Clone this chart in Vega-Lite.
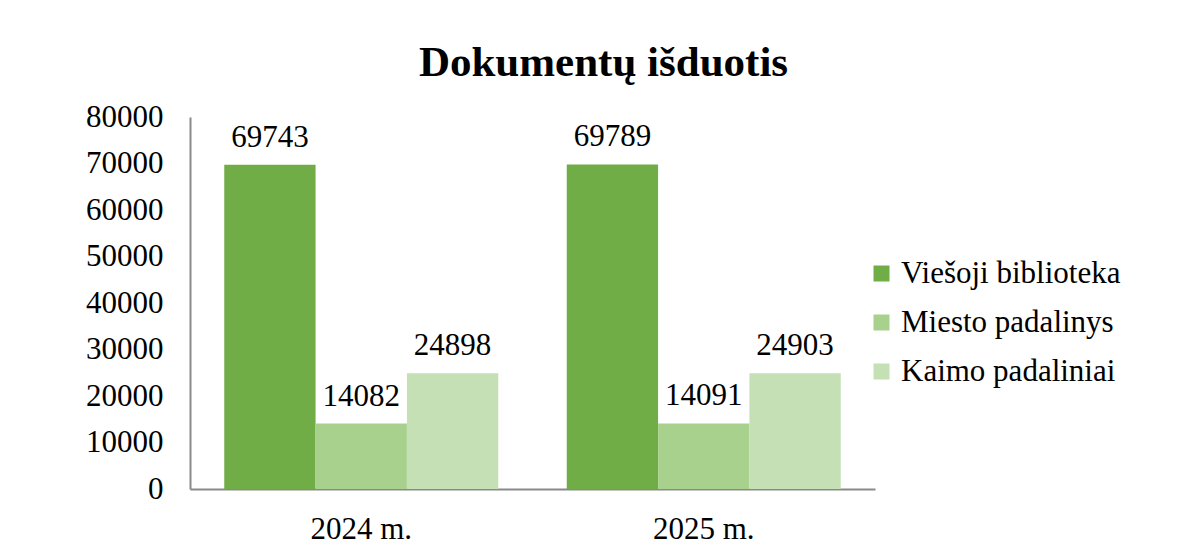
{
  "$schema": "https://vega.github.io/schema/vega-lite/v6.json",
  "width": 685,
  "height": 372,
  "autosize": {"type": "none"},
  "padding": {"left": 190, "top": 117, "right": 311, "bottom": 63},
  "background": "white",
  "title": {
    "text": "Dokumentų išduotis",
    "font": "Liberation Serif",
    "fontSize": 43,
    "fontWeight": "bold",
    "color": "#000000",
    "anchor": "middle",
    "dx": 71,
    "offset": 16
  },
  "config": {
    "view": {"stroke": null},
    "font": "Liberation Serif"
  },
  "data": {
    "values": [
      {"year": "2024 m.", "series": "Viešoji biblioteka", "value": 69743},
      {"year": "2024 m.", "series": "Miesto padalinys", "value": 14082},
      {"year": "2024 m.", "series": "Kaimo padaliniai", "value": 24898},
      {"year": "2025 m.", "series": "Viešoji biblioteka", "value": 69789},
      {"year": "2025 m.", "series": "Miesto padalinys", "value": 14091},
      {"year": "2025 m.", "series": "Kaimo padaliniai", "value": 24903}
    ]
  },
  "encoding": {
    "x": {
      "field": "year",
      "type": "nominal",
      "sort": ["2024 m.", "2025 m."],
      "scale": {"paddingInner": 0.2, "paddingOuter": 0.1},
      "axis": {
        "title": null,
        "labelAngle": 0,
        "ticks": false,
        "labelPadding": 25,
        "labelFont": "Liberation Serif",
        "labelFontSize": 31,
        "labelColor": "#000000",
        "domainColor": "#898989",
        "domainWidth": 2
      }
    },
    "xOffset": {
      "field": "series",
      "type": "nominal",
      "sort": ["Viešoji biblioteka", "Miesto padalinys", "Kaimo padaliniai"],
      "scale": {"paddingInner": 0, "paddingOuter": 0}
    },
    "y": {
      "field": "value",
      "type": "quantitative",
      "scale": {"domain": [0, 80000], "nice": false},
      "axis": {
        "title": null,
        "values": [0, 10000, 20000, 30000, 40000, 50000, 60000, 70000, 80000],
        "format": "d",
        "grid": false,
        "ticks": false,
        "labelPadding": 27,
        "labelFont": "Liberation Serif",
        "labelFontSize": 31,
        "labelColor": "#000000",
        "domainColor": "#898989",
        "domainWidth": 2
      }
    }
  },
  "layer": [
    {
      "mark": {"type": "bar"},
      "encoding": {
        "color": {
          "field": "series",
          "type": "nominal",
          "sort": ["Viešoji biblioteka", "Miesto padalinys", "Kaimo padaliniai"],
          "scale": {
            "domain": ["Viešoji biblioteka", "Miesto padalinys", "Kaimo padaliniai"],
            "range": ["#70AD47", "#A9D18E", "#C5E0B4"]
          },
          "legend": {
            "title": null,
            "orient": "none",
            "legendX": 676,
            "legendY": 141,
            "symbolType": "square",
            "symbolSize": 256,
            "symbolStrokeWidth": 0,
            "labelFont": "Liberation Serif",
            "labelFontSize": 31,
            "labelColor": "#000000",
            "labelOffset": 4,
            "rowPadding": 17,
            "labelLimit": 400
          }
        }
      }
    },
    {
      "mark": {
        "type": "text",
        "baseline": "bottom",
        "dy": -11,
        "font": "Liberation Serif",
        "fontSize": 31,
        "color": "#000000"
      },
      "encoding": {
        "text": {"field": "value", "type": "quantitative", "format": "d"}
      }
    }
  ]
}
